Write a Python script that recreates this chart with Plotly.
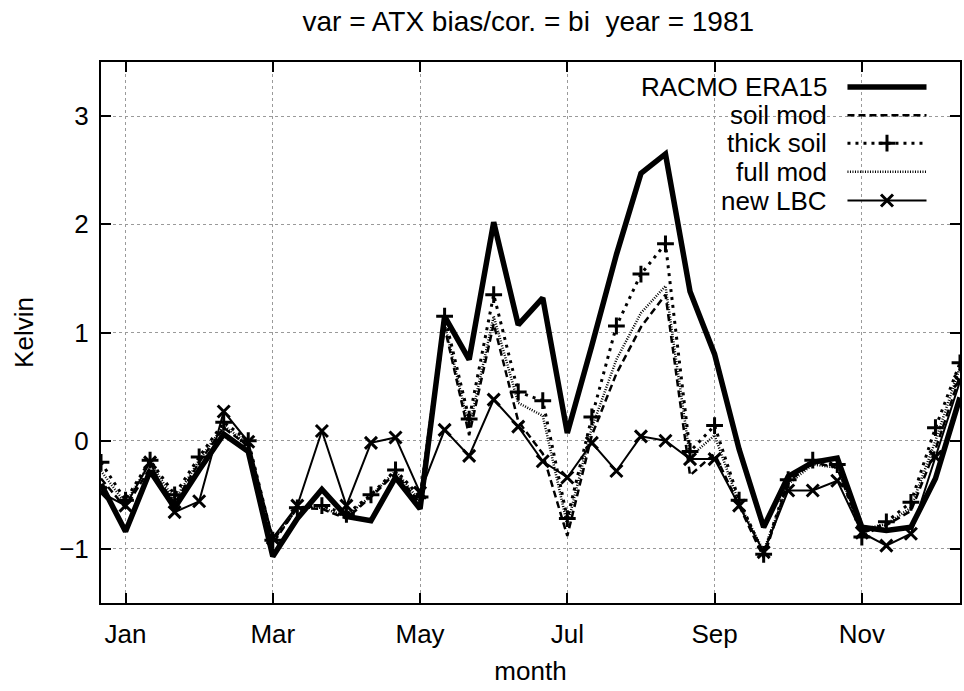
import plotly.graph_objects as go

# ---- data (dekad means, months on x axis) ----
month_pos = [round(2/3 + i/3, 4) for i in range(36)]
tick_vals = [1, 3, 5, 7, 9, 11]
tick_text = ["Jan", "Mar", "May", "Jul", "Sep", "Nov"]
y_ticks = [-1, 0, 1, 2, 3]

racmo_era15 = [-0.40, -0.84, -0.28, -0.62, -0.27, 0.06, -0.10, -1.07, -0.72, -0.45,
               -0.70, -0.74, -0.34, -0.63, 1.15, 0.75, 2.02, 1.07, 1.32, 0.07,
               0.88, 1.72, 2.47, 2.65, 1.38, 0.80, -0.08, -0.80, -0.33, -0.20,
               -0.16, -0.80, -0.83, -0.80, -0.35, 0.40]
soil_mod = [-0.35, -0.62, -0.25, -0.58, -0.20, 0.12, -0.05, -0.95, -0.62, -0.63,
            -0.72, -0.52, -0.30, -0.58, 1.05, 0.05, 1.08, 0.18, -0.12, -0.88,
            0.05, 0.62, 1.05, 1.35, -0.32, -0.12, -0.60, -1.08, -0.38, -0.20,
            -0.25, -0.85, -0.78, -0.65, -0.08, 0.60]
thick_soil = [-0.20, -0.55, -0.18, -0.50, -0.15, 0.17, 0.00, -0.92, -0.62, -0.60,
              -0.68, -0.50, -0.27, -0.52, 1.15, 0.20, 1.35, 0.45, 0.37, -0.72,
              0.22, 1.06, 1.54, 1.82, -0.10, 0.14, -0.55, -1.05, -0.36, -0.18,
              -0.22, -0.89, -0.75, -0.57, 0.12, 0.72]
full_mod = [-0.28, -0.58, -0.20, -0.55, -0.18, 0.14, -0.03, -0.93, -0.62, -0.62,
            -0.70, -0.51, -0.28, -0.56, 1.08, 0.12, 1.15, 0.35, 0.23, -0.78,
            0.12, 0.75, 1.18, 1.43, -0.15, 0.05, -0.58, -1.02, -0.40, -0.22,
            -0.25, -0.82, -0.77, -0.62, 0.00, 0.68]
new_lbc = [-0.48, -0.60, -0.20, -0.66, -0.56, 0.27, -0.01, -0.90, -0.60, 0.09,
           -0.60, -0.02, 0.03, -0.48, 0.10, -0.14, 0.38, 0.13, -0.19, -0.34,
           -0.02, -0.28, 0.04, 0.00, -0.17, -0.17, -0.60, -1.03, -0.46, -0.46,
           -0.37, -0.85, -0.97, -0.86, -0.15, 0.55]

series_names = ["RACMO ERA15", "soil mod", "thick soil", "full mod", "new LBC"]

FONT = "Liberation Sans, Arial, Helvetica, sans-serif"

styles = {
    "RACMO ERA15": dict(line=dict(color="black", width=5.5), mode="lines"),
    "soil mod": dict(line=dict(color="black", width=2.5, dash="7px,4px"), mode="lines"),
    "thick soil": dict(line=dict(color="black", width=3, dash="3px,5px"), mode="lines+markers",
                       marker=dict(symbol="cross-thin", size=12, line=dict(color="black", width=3))),
    "full mod": dict(line=dict(color="black", width=2.5, dash="1px,1.5px"), mode="lines"),
    "new LBC": dict(line=dict(color="black", width=2), mode="lines+markers",
                    marker=dict(symbol="x-thin", size=12, line=dict(color="black", width=3))),
}
data = {"RACMO ERA15": racmo_era15, "soil mod": soil_mod, "thick soil": thick_soil,
        "full mod": full_mod, "new LBC": new_lbc}

fig = go.Figure()
for name in series_names:
    fig.add_trace(go.Scatter(x=month_pos, y=data[name], name=name, showlegend=False,
                             **styles[name]))

# ---- custom gnuplot-style legend (text right, sample left) on an overlay unit axis ----
leg_text_x = 0.847
leg_x0, leg_x1 = 0.869, 0.961
leg_rows = [0.954, 0.9015, 0.850, 0.797, 0.744]
for name, yy in zip(series_names, leg_rows):
    st = styles[name]
    kw = dict(line=st["line"], mode="lines")
    fig.add_trace(go.Scatter(x=[leg_x0, leg_x1], y=[yy, yy], xaxis="x2", yaxis="y2",
                             showlegend=False, hoverinfo="skip", **kw))
    if "marker" in st:
        fig.add_trace(go.Scatter(x=[(leg_x0 + leg_x1) / 2], y=[yy], xaxis="x2", yaxis="y2",
                                 mode="markers", marker=st["marker"], showlegend=False,
                                 hoverinfo="skip"))
    fig.add_annotation(x=leg_text_x, y=yy, xref="x2", yref="y2", text=name,
                       showarrow=False, xanchor="right", yanchor="middle",
                       font=dict(family=FONT, size=26, color="black"))

axis_common = dict(showline=True, linecolor="black", linewidth=2, mirror="ticks",
                   ticks="inside", ticklen=10, tickwidth=1.5, tickcolor="black",
                   showgrid=True, gridcolor="#9a9a9a", griddash="dot", gridwidth=1,
                   zeroline=False, tickfont=dict(family=FONT, size=26, color="black"))

fig.update_layout(
    width=964, height=691,
    margin=dict(l=101, r=2, t=62, b=88),
    paper_bgcolor="white", plot_bgcolor="white",
    font=dict(family=FONT, size=25, color="black"),
    title=dict(text="var = ATX bias/cor. = bi  year = 1981", x=0.548, xanchor="center",
               y=0.969, yanchor="middle", font=dict(family=FONT, size=28, color="black")),
    xaxis=dict(range=[2/3, 37/3], tickvals=tick_vals, ticktext=tick_text,
               title=dict(text="month", standoff=14, font=dict(family=FONT, size=26)),
               ticklabelstandoff=7, **axis_common),
    yaxis=dict(range=[-1.5, 3.5], tickvals=y_ticks,
               title=dict(text="Kelvin", standoff=18, font=dict(family=FONT, size=26)),
               ticklabelstandoff=5, **axis_common),
    xaxis2=dict(overlaying="x", range=[0, 1], visible=False, fixedrange=True),
    yaxis2=dict(overlaying="y", range=[0, 1], visible=False, fixedrange=True),
)

fig.write_html("out.html")
